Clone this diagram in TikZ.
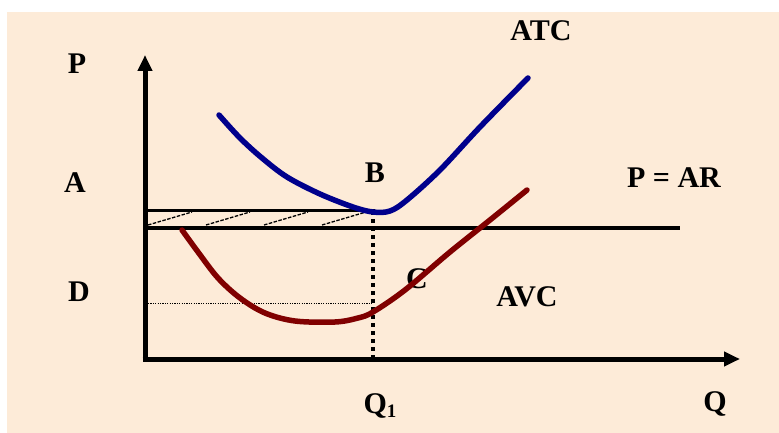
\documentclass[tikz,border=0pt]{standalone}
\usepackage{fontspec}
\setmainfont{Liberation Serif}
\usetikzlibrary{arrows.meta}
\definecolor{bg}{RGB}{253,235,216}
\definecolor{atcblue}{RGB}{0,0,140}
\definecolor{avcred}{RGB}{128,0,0}
\begin{document}
\begin{tikzpicture}[x=1pt,y=-1pt,
  lbl/.style={inner sep=0pt,font=\fontsize{30}{36}\selectfont\bfseries},
  axisline/.style={line width=5pt,-{Triangle[length=16pt,width=14pt]}},
  curveline/.style={line width=5.5pt,line cap=round,line join=round},
  hatchline/.style={line width=1.3pt,dash pattern=on 3.5pt off 1.5pt}]
\useasboundingbox (0,0) rectangle (779,433);
\fill[white] (0,0) rectangle (779,433);
\fill[bg] (7,12) rectangle (779,433);
% axes
\coordinate (O) at (145,359);
\coordinate (ytip) at (145,55);
\coordinate (xtip) at (740,359);
\draw[axisline] (145,361.5) -- (ytip);
\draw[axisline] (142.5,359) -- (xtip);
% price line P = AR
\coordinate (pl) at (145,228);
\coordinate (pr) at (680,228);
\draw[line width=4pt] (pl) -- (pr);
% top of shaded area
\coordinate (tl) at (145,210.5);
\coordinate (tr) at (375,210.5);
\draw[line width=2.5pt] (tl) -- (tr);
% hatching
\foreach \s in {148,206,264,322}{
  \draw[hatchline] (\s,225) -- (\s+44,212);
}
% dotted lines
\coordinate (B0) at (373,211);
\coordinate (Q0) at (373,357);
\draw[line width=4pt,dash pattern=on 4pt off 4pt] (B0) -- (Q0);
\coordinate (Dl) at (148,303);
\coordinate (Dr) at (373,303);
\draw[line width=1pt,dash pattern=on 1.2pt off 1.2pt] (Dl) -- (Dr);
% ATC curve
\draw[curveline,atcblue] plot[smooth,tension=0.55] coordinates {
  (219,115) (240,138) (262,158) (287,177) (320,194) (353,207) (373,212)
  (390,211) (407,200) (440,170) (480,127) (528,78)};
% labels
\node[lbl] (P) at (77,64) {P};
\node[lbl] (Qlab) at (715,404) {Q};
\node[lbl] (A) at (75,183) {A};
\node[lbl] (D) at (79,292) {D};
\node[lbl] (ATC) at (541,31) {ATC};
\node[lbl] (B) at (375,173) {B};
\node[lbl] (PAR) at (674,178) {P = AR};
\node[lbl] (AVC) at (527,297) {AVC};
\node[lbl] (Q1) at (380,406) {Q\raisebox{-4pt}{\fontsize{19}{19}\selectfont 1}};
\node[lbl] (C) at (417,279) {C};
% AVC curve (drawn over the C label, as in the reference)
\draw[curveline,avcred] plot[smooth,tension=0.55] coordinates {
  (182,230) (198,252) (218,278) (240,298) (265,313) (295,321) (335,322)
  (358,318) (373,312) (405,290) (450,252) (490,220) (527,190)};
\end{tikzpicture}
\end{document}
